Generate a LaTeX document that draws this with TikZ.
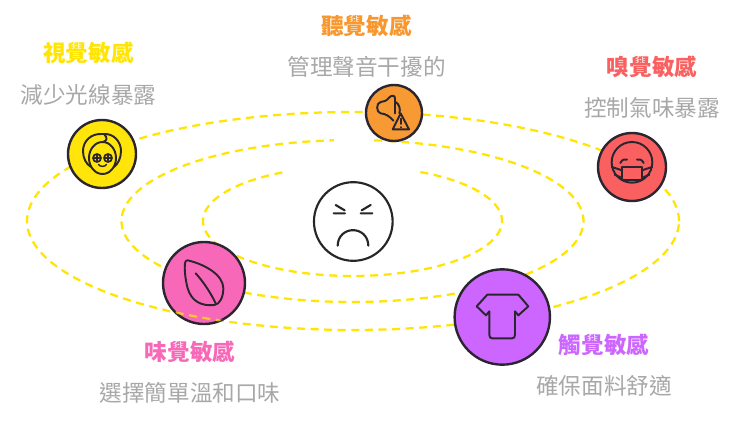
\documentclass[tikz,border=0pt]{standalone}
\usepackage{fontspec}
\setmainfont{Noto Sans CJK TC}
\definecolor{ink}{HTML}{2B2530}
\definecolor{dashy}{HTML}{FFE500}
\definecolor{ygold}{HTML}{FFE50A}
\definecolor{ogold}{HTML}{F79A33}
\definecolor{rcoral}{HTML}{FA6060}
\definecolor{ppink}{HTML}{F769B8}
\definecolor{vpurp}{HTML}{CC66FF}
\definecolor{subgray}{HTML}{A8A8A8}
\tikzset{
  orbit/.style={draw=dashy,line width=1.7pt,dash pattern=on 6pt off 4.2pt,samples=240,variable=\t,smooth},
  sensebox/.style={circle,draw=ink,line width=1.8pt,inner sep=0pt,outer sep=0pt},
  glyph/.style={draw=ink,line width=1.45pt,line cap=round,line join=round},
  headline/.style={font=\fontsize{16.9pt}{18pt}\selectfont\bfseries,inner sep=0pt},
  subline/.style={text=subgray,font=\fontsize{16.95pt}{18pt}\selectfont,inner sep=0pt}
}
\begin{document}
\begin{tikzpicture}[x=0.75pt,y=-0.75pt]
\useasboundingbox (0,0) rectangle (740,421);
\fill[white] (0,0) rectangle (740,421);
% orbits
\draw[orbit] plot[domain=0:360] ({353+326*cos(\t)},{221-109*sin(\t)});
\draw[orbit] plot[domain=84.6:-265.4] ({352.5+231*cos(\t)},{221-81*sin(\t)});
\draw[orbit] plot[domain=63:-243] ({352.5+149.5*cos(\t)},{221-55*sin(\t)});
% centre face
\node[circle,draw=black!85,fill=white,line width=1.6pt,minimum size=59pt,inner sep=0pt] (face) at (353.3,221.5) {};
\begin{scope}[shift={(305,175)},x=0.25pt,y=-0.25pt]
\draw[draw=black!85,line width=1.6pt,line cap=round,line join=round]
  (92,90) -- (119,106) (86,115) -- (120,115)
  (197,90) -- (170,106) (167,115) -- (202,115)
  (98,212) .. controls (100,150) and (188,150) .. (190,212);
\end{scope}
% circles
\node[sensebox,fill=ygold,minimum size=51pt] (sight) at (102,154) {};
\node[sensebox,fill=ogold,minimum size=42pt] (sound) at (394,113) {};
\node[sensebox,fill=rcoral,minimum size=51pt] (smell) at (632,167) {};
\node[sensebox,fill=ppink,minimum size=61.5pt] (taste) at (204,283) {};
\node[sensebox,fill=vpurp,minimum size=71.5pt] (touch) at (502.3,317) {};
% dashes visible over the pink circle
\begin{scope}
\clip (204,283) circle (41);
\draw[orbit,opacity=0.75] plot[domain=0:360] ({353+326*cos(\t)},{221-109*sin(\t)});
\end{scope}
% sight icon
\draw[glyph] (103,134) .. controls (90,133) and (83,142) .. (83,151)
  .. controls (83,158) and (86,164) .. (91,167);
\draw[glyph] (103,134) .. controls (114,133) and (121,142) .. (121,151)
  .. controls (121,158) and (118,164) .. (114,167);
\draw[glyph] (102.5,158) ellipse (13.5 and 16);
\draw[glyph] (104,134) .. controls (108,138) and (107,141) .. (103,142);
\draw[glyph,line width=1.3pt] (97,158) circle (4) (108,158) circle (4);
\draw[glyph,line width=0.8pt] (94.5,158) -- (99.5,158) (97,155.5) -- (97,160.5) (105.5,158) -- (110.5,158) (108,155.5) -- (108,160.5);
\draw[glyph,line width=1.1pt] (98.5,164.5) .. controls (100,167) and (105,167) .. (106.5,164.5);
% sound icon
\begin{scope}[shift={(360,80)},x=0.25pt,y=-0.25pt]
\draw[glyph] (105,100) -- (105,55) .. controls (105,45) and (95,45) .. (88,52)
  .. controls (80,62) and (72,66) .. (62,66) .. controls (48,68) and (48,98) .. (62,100)
  .. controls (78,102) and (88,108) .. (100,122);
\draw[glyph] (107,66) .. controls (118,72) and (122,88) .. (118,100);
\draw[glyph] (122,100) -- (147,148) -- (98,148) -- cycle;
\draw[glyph] (122,116) -- (122,132) (122,141) -- (122,142);
\end{scope}
% smell icon
\begin{scope}[shift={(592,128)},x=0.25pt,y=-0.25pt]
\draw[glyph] (120,103) circle (61);
\fill[rcoral] (89,118) rectangle (151,157);
\draw[glyph] (90,118) rectangle (150,157);
\draw[glyph] (90,127) -- (60,117) (90,150) -- (68,140) (150,127) -- (180,117) (150,150) -- (172,140);
\draw[glyph] (85,105) .. controls (90,95) and (97,92) .. (105,95);
\draw[glyph] (135,95) .. controls (143,92) and (150,95) .. (155,105);
\end{scope}
% taste icon
\begin{scope}[shift={(155,235)},x=0.25pt,y=-0.25pt]
\draw[glyph] (98,76) .. controls (150,88) and (205,120) .. (205,160)
  .. controls (205,185) and (195,208) .. (178,210)
  .. controls (140,214) and (110,200) .. (98,160)
  .. controls (90,130) and (88,100) .. (90,84) .. controls (91,78) and (94,76) .. (98,76) -- cycle;
\draw[glyph] (122,115) .. controls (145,140) and (168,175) .. (182,205);
\end{scope}
% touch icon
\begin{scope}[shift={(450,262)},x=0.25pt,y=-0.25pt]
\draw[glyph] (80,133) -- (112,98) -- (205,98) -- (235,133) -- (205,160) -- (195,148) -- (195,218)
  .. controls (195,226) and (192,229) .. (186,229) -- (127,229)
  .. controls (121,229) and (118,226) .. (118,218) -- (118,148) -- (108,160) -- cycle;
\end{scope}
% labels
\node[headline,text=dashy] (sightT) at (88.5,53) {視覺敏感};
\node[subline] (sightS) at (88.5,95) {減少光線暴露};
\node[headline,text=ogold!90!orange] (soundT) at (366.5,26) {聽覺敏感};
\node[subline] (soundS) at (366.5,67) {管理聲音干擾的};
\node[headline,text=rcoral] (smellT) at (652,67) {嗅覺敏感};
\node[subline] (smellS) at (652,108) {控制氣味暴露};
\node[headline,text=ppink] (tasteT) at (190,352) {味覺敏感};
\node[subline] (tasteS) at (190,393) {選擇簡單溫和口味};
\node[headline,text=vpurp] (touchT) at (604,345) {觸覺敏感};
\node[subline] (touchS) at (604,386) {確保面料舒適};
\end{tikzpicture}
\end{document}
